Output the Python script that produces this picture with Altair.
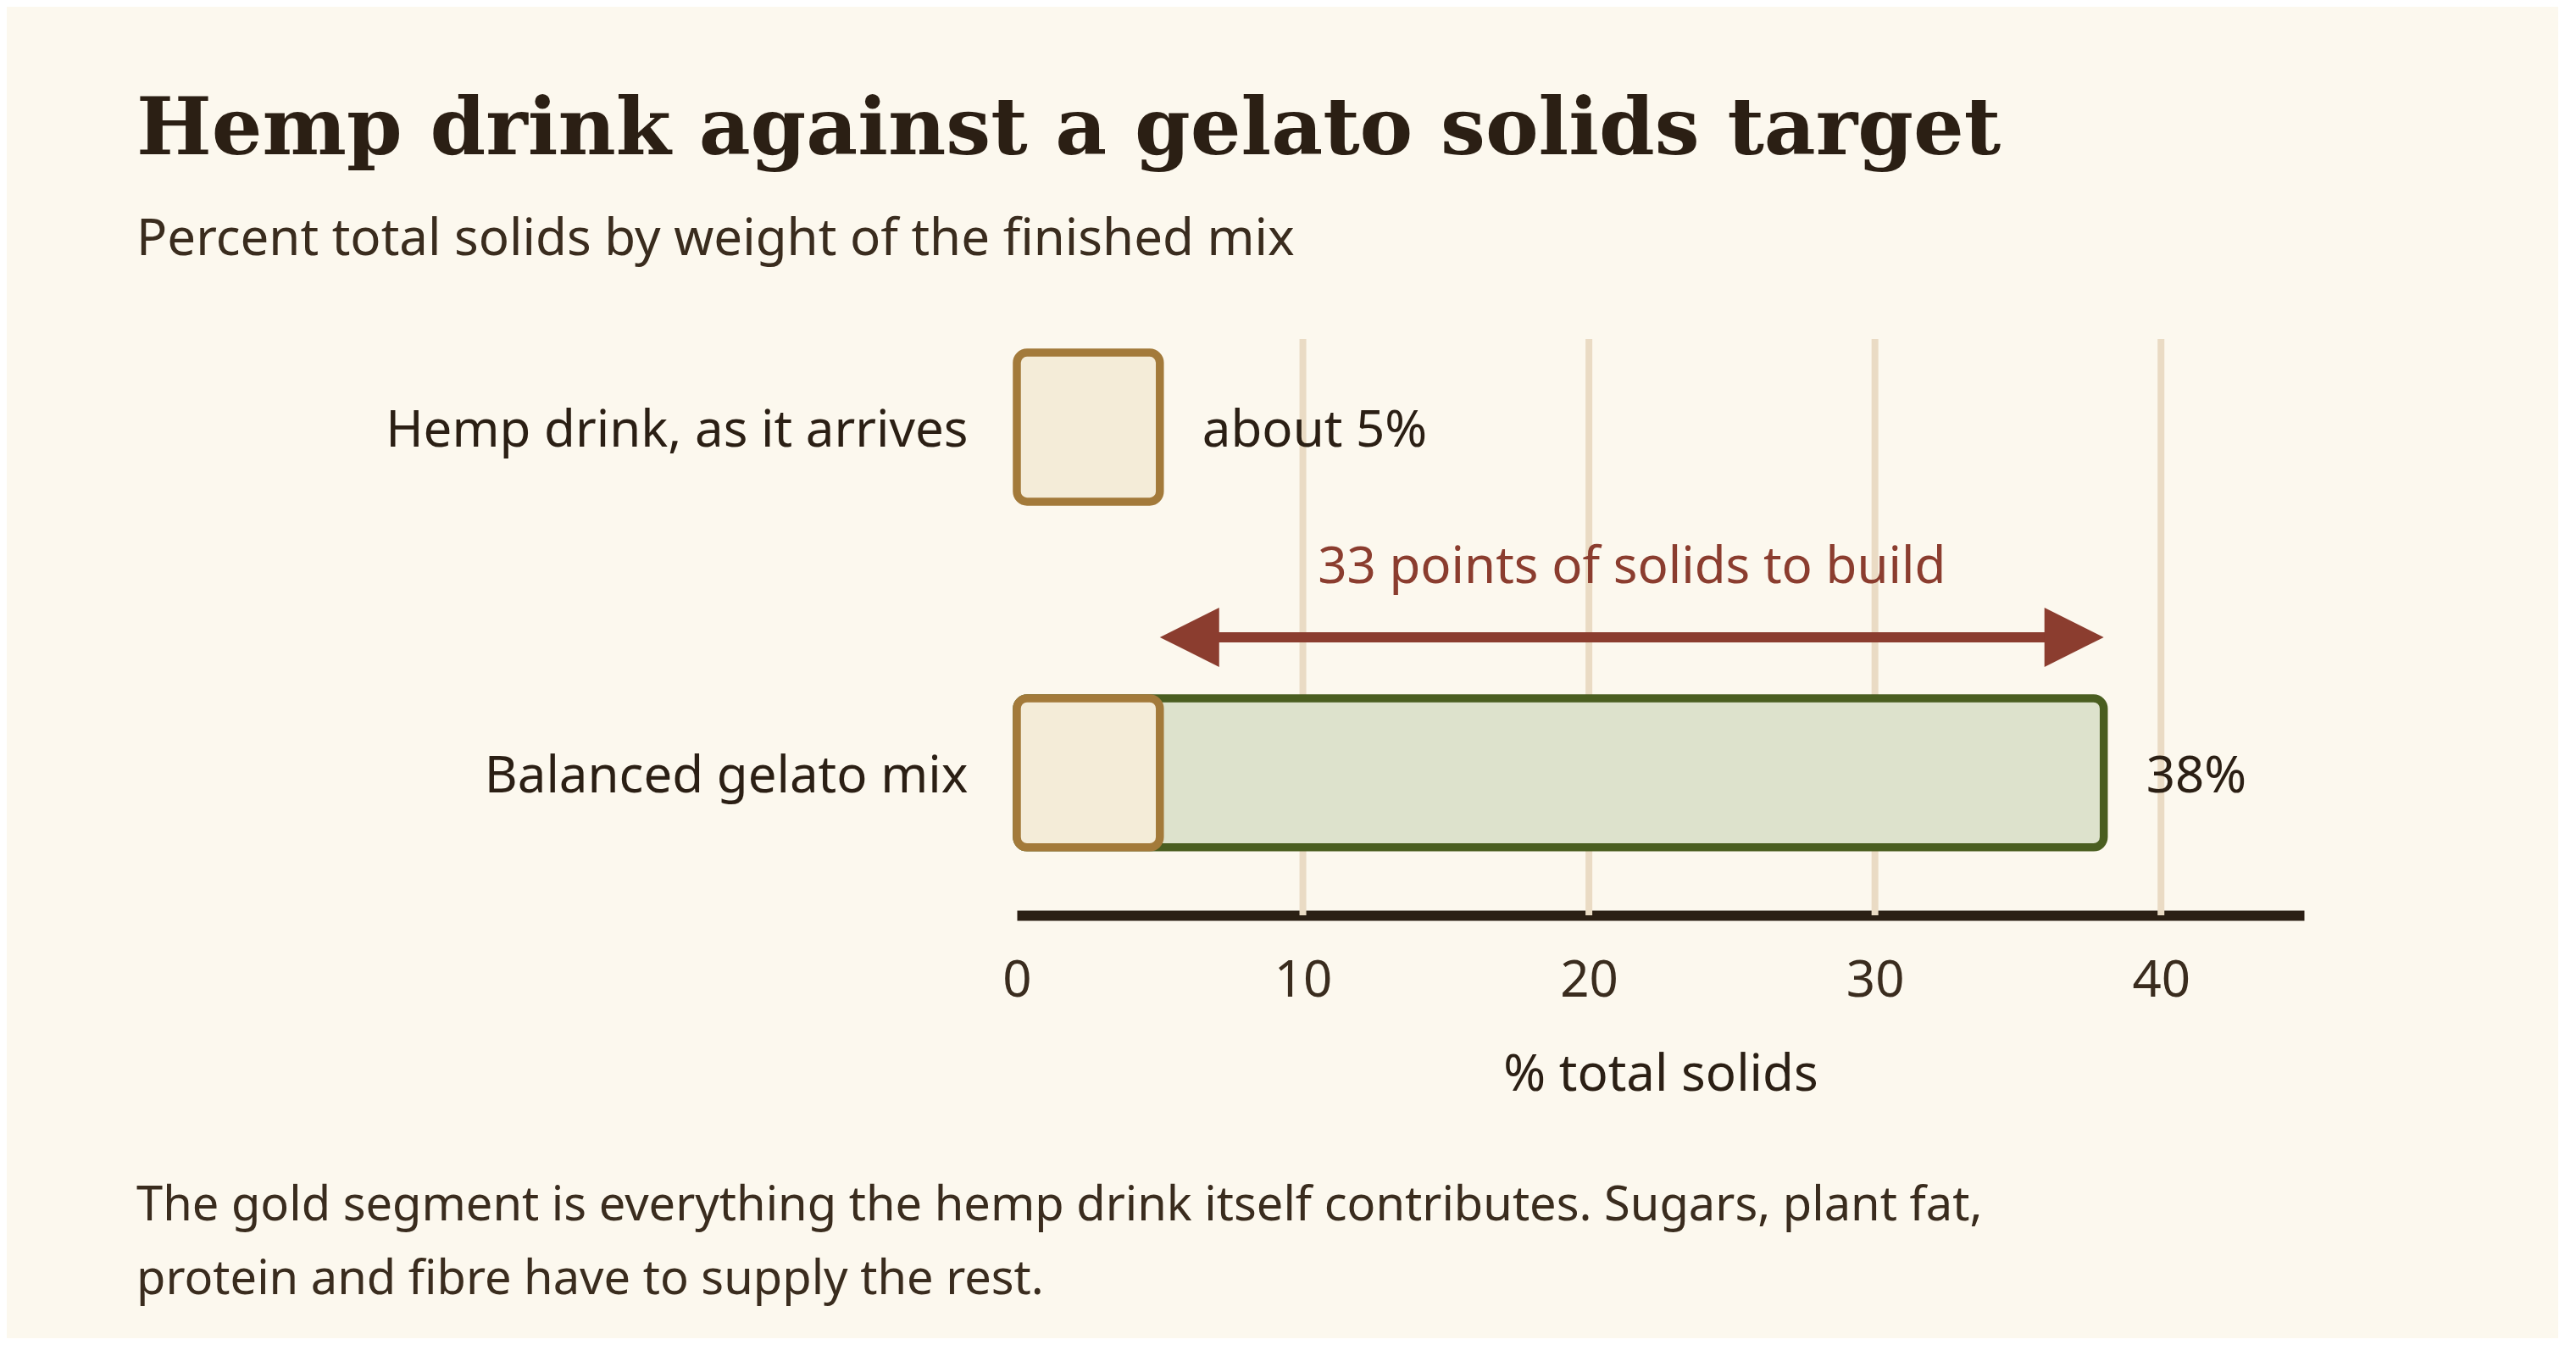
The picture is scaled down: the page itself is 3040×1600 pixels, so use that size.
import altair as alt
import pandas as pd

# --- values ---
rows = ["Hemp drink, as it arrives", "Balanced gelato mix"]
hemp_solids = 5
target_solids = 38

bar_rows = ["Balanced gelato mix", "Balanced gelato mix", "Hemp drink, as it arrives"]
bar_kinds = ["target", "hemp", "hemp"]
bar_ends = [target_solids, hemp_solids, hemp_solids]

label_rows = ["Hemp drink, as it arrives", "Balanced gelato mix"]
label_values = [hemp_solids, target_solids]
label_texts = ["about 5%", "38%"]

grid_values = [10, 20, 30, 40]
tick_values = [0, 10, 20, 30, 40]

note_lines = [
    "The gold segment is everything the hemp drink itself contributes. Sugars, plant fat,",
    "protein and fibre have to supply the rest.",
]

# --- styling ---
SANS = "Noto Sans"
SERIF = "DejaVu Serif"
INK = "#2b1f14"
INK_SOFT = "#3a2c1e"
BG = "#fcf8ee"
GOLD_LINE, GOLD_FILL = "#a37a3a", "#f4ecd8"
GREEN_LINE, GREEN_FILL = "#4a5e20", "#dde2cc"
RUST = "#8b3d2f"
GRID = "#eadbc4"
FS = 60

bars = pd.DataFrame({"row": bar_rows, "kind": bar_kinds, "start": 0, "end": bar_ends})
labels = pd.DataFrame({"row": label_rows, "value": label_values, "text": label_texts})
grid = pd.DataFrame({"x": grid_values})
arrow = pd.DataFrame({
    "row": ["Balanced gelato mix"],
    "start": [hemp_solids],
    "end": [target_solids],
    "mid": [(hemp_solids + target_solids) / 2],
    "text": [f"{target_solids - hemp_solids} points of solids to build"],
})
note = pd.DataFrame({"note": ["\n".join(note_lines)]})

x_scale = alt.Scale(domain=[0, 45], nice=False, zero=True)
y_scale = alt.Scale(domain=rows, paddingInner=0.569, paddingOuter=0.118, align=0.167)

y_axis = alt.Axis(title=None, domain=False, ticks=False, tickSize=0, labelPadding=58, labelOffset=5,
                  labelFont=SANS, labelFontSize=FS, labelColor=INK, labelLimit=1200)
x_axis = alt.Axis(values=tick_values, title="% total solids", grid=False, ticks=False, tickSize=0,
                  domain=True, domainColor=INK, domainWidth=12, labelPadding=48, labelFlush=False,
                  labelFont=SANS, labelFontSize=FS, labelColor=INK_SOFT,
                  titleFont=SANS, titleFontSize=FS, titleFontWeight="normal",
                  titleColor=INK, titlePadding=52)

y_enc = alt.Y("row:N", sort=rows, scale=y_scale, axis=y_axis)

gridlines = alt.Chart(grid).mark_rule(color=GRID, strokeWidth=8).encode(
    x=alt.X("x:Q", scale=x_scale, axis=x_axis)
)

bar_layer = alt.Chart(bars).mark_bar(cornerRadius=12, strokeWidth=9.5).encode(
    x=alt.X("start:Q", scale=x_scale, axis=x_axis),
    x2="end:Q",
    y=y_enc,
    fill=alt.Fill("kind:N", scale=alt.Scale(domain=["hemp", "target"], range=[GOLD_FILL, GREEN_FILL]), legend=None),
    stroke=alt.Stroke("kind:N", scale=alt.Scale(domain=["hemp", "target"], range=[GOLD_LINE, GREEN_LINE]), legend=None),
    order=alt.Order("kind:N", sort="descending"),
)

value_text = alt.Chart(labels).mark_text(
    align="left", baseline="middle", dx=50, dy=5, font=SANS, fontSize=FS, color=INK
).encode(x=alt.X("value:Q", scale=x_scale), y=y_enc, text="text:N")

shaft = alt.Chart(arrow).mark_rule(
    color=RUST, strokeWidth=12, yOffset=-160, xOffset=24, x2Offset=-24
).encode(x=alt.X("start:Q", scale=x_scale), x2="end:Q", y=y_enc)

head_left = alt.Chart(arrow).mark_point(
    shape="M0,0L2,-1L2,1Z", size=4900, filled=True, opacity=1, color=RUST, strokeWidth=0, yOffset=-160
).encode(x=alt.X("start:Q", scale=x_scale), y=y_enc)

head_right = alt.Chart(arrow).mark_point(
    shape="M0,0L-2,-1L-2,1Z", size=4900, filled=True, opacity=1, color=RUST, strokeWidth=0, yOffset=-160
).encode(x=alt.X("end:Q", scale=x_scale), y=y_enc)

arrow_text = alt.Chart(arrow).mark_text(
    align="center", baseline="alphabetic", dy=-224, font=SANS, fontSize=FS, color=RUST
).encode(x=alt.X("mid:Q", scale=x_scale), y=y_enc, text="text:N")

footnote = alt.Chart(note).mark_text(
    align="left", baseline="alphabetic", lineBreak="\n", lineHeight=87,
    font=SANS, fontSize=56, color=INK_SOFT
).encode(x=alt.value(-1039), y=alt.value(1040), text="note:N")

chart = alt.layer(
    gridlines, bar_layer, value_text, shaft, head_left, head_right, arrow_text, footnote
).properties(
    width=1519,
    height=680,
    padding={"left": 153, "top": 99, "right": 300, "bottom": 41},
    background=BG,
    title=alt.Title(
        text="Hemp drink against a gelato solids target",
        subtitle="Percent total solids by weight of the finished mix",
        anchor="start", frame="bounds", offset=82,
        font=SERIF, fontSize=94, fontWeight="bold", color=INK,
        subtitleFont=SANS, subtitleFontSize=60, subtitleColor=INK_SOFT, subtitlePadding=52,
    ),
).configure_view(stroke=None)

chart.save("out.html", embed_options={"renderer": "svg", "actions": False})
